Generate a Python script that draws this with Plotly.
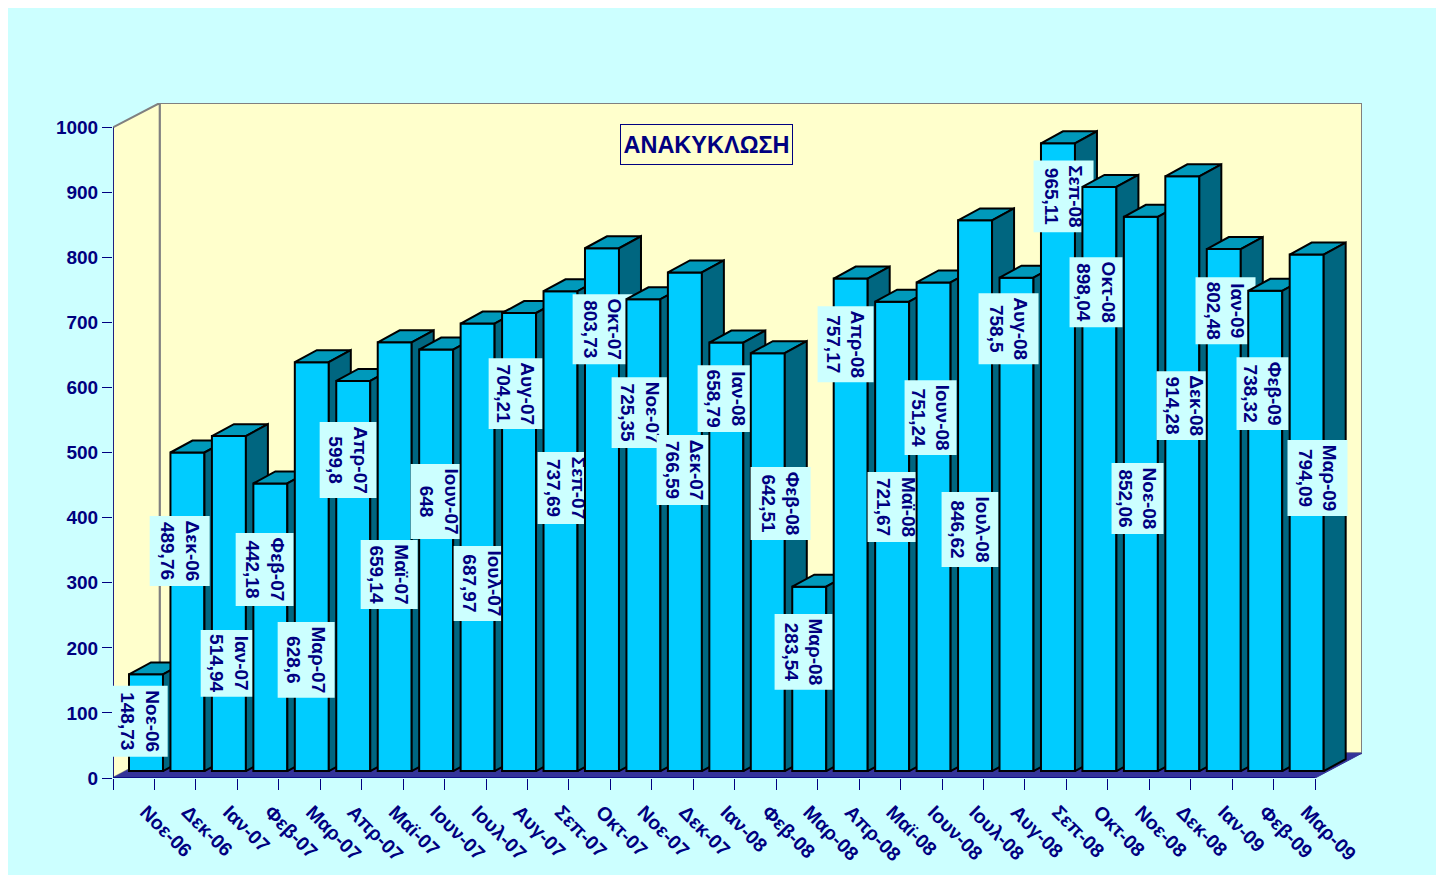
import plotly.graph_objects as go

months = ["Νοε-06","Δεκ-06","Ιαν-07","Φεβ-07","Μαρ-07","Απρ-07","Μαϊ-07","Ιουν-07","Ιουλ-07","Αυγ-07",
          "Σεπ-07","Οκτ-07","Νοε-07","Δεκ-07","Ιαν-08","Φεβ-08","Μαρ-08","Απρ-08","Μαϊ-08","Ιουν-08",
          "Ιουλ-08","Αυγ-08","Σεπ-08","Οκτ-08","Νοε-08","Δεκ-08","Ιαν-09","Φεβ-09","Μαρ-09"]
values = [148.73,489.76,514.94,442.18,628.6,599.8,659.14,648,687.97,704.21,
          737.69,803.73,725.35,766.59,658.79,642.51,283.54,757.17,721.67,751.24,
          846.62,758.5,965.11,898.04,852.06,914.28,802.48,738.32,794.09]
y_ticks = list(range(0, 1001, 100))
title_text = "ΑΝΑΚΥΚΛΩΣΗ"

# hand-placed data label boxes, page pixels: left, right, top, bottom
label_left   = [113,150,201,236,278,320,361,411,454,489,538,573,612,657,698,751,775,818,868,905,942,979,1034,1070,1112,1157,1196,1237,1288]
label_right  = [168,210,257,294,335,377,418,468,511,543,595,633,669,713,755,811,833,874,925,957,999,1039,1094,1123,1164,1213,1256,1289,1348]
label_top    = [686,516,630,533,622,422,540,464,546,358,452,294,377,435,365,467,614,306,472,380,492,293,160,257,463,371,277,357,440]
label_bottom = [757,586,697,606,698,498,609,539,621,429,524,364,448,505,432,540,690,382,542,455,567,364,232,327,534,440,344,430,516]

# page geometry
PX0, PY0 = 113.3, 778.3      # front plane origin on the page
UX, UY = 41.46, 0.6513       # pixels per category / per value
PAGE = 8                     # body margin of the page
W, H = 1428, 867
PLOT_R, PLOT_T = 1362.5, 102.5
xmax = -0.5 + (PLOT_R - PX0) / UX
ymax = (PY0 - PLOT_T) / UY

WALL_DX, WALL_DY = 46.7 / UX, 38.0
BAR_W = 34 / UX
BAR_SHIFT = (146.3 - PX0) / UX - 0.5
BAR_BASE = 10.6
DEPTH_X, DEPTH_Y = 22 / UX, 18.4
TICK_LABEL_SHIFT = 0.29

NAVY = "#000080"
FONT = "Liberation Sans, Arial, sans-serif"

def px_x(p):
    return -0.5 + (p - PX0) / UX

def px_y(p):
    return (PY0 - p) / UY

def fmt(v):
    return str(v).replace(".", ",")

def poly(xs, ys, fill, line, width, yaxis):
    return go.Scatter(x=xs + xs[:1], y=ys + ys[:1], mode="lines", fill="toself", fillcolor=fill,
                      line=dict(color=line, width=width), yaxis=yaxis, xaxis="x",
                      hoverinfo="skip", showlegend=False)

def line(xs, ys, color, width, yaxis="y"):
    return go.Scatter(x=xs, y=ys, mode="lines", line=dict(color=color, width=width), yaxis=yaxis,
                      xaxis="x", hoverinfo="skip", showlegend=False)

traces = []
# walls and floor in the bottom subplot
x0, x1 = -0.5, 28.5
traces.append(poly([x0 + WALL_DX, xmax, xmax, x0 + WALL_DX], [WALL_DY, WALL_DY, ymax, ymax], "#FFFFCC", "#808080", 2, "y"))
traces.append(poly([x0, x0, x0 + WALL_DX, x0 + WALL_DX], [0, 1000, ymax, WALL_DY], "#FFFFCC", "#808080", 2, "y"))
traces.append(poly([x0, x1, x1 + WALL_DX, x0 + WALL_DX], [0, 0, WALL_DY, WALL_DY], "#333399", "#333399", 1, "y"))
traces.append(line([x0, x0], [0, 1000], NAVY, 1.5))
traces.append(line([x0, x1], [0, 0], NAVY, 1.5))

n = len(values)
for i in range(n + 1):
    ya = f"y{i + 2}"
    if i > 0:
        j = i - 1
        l, r, t, b = label_left[j], label_right[j], label_top[j], label_bottom[j]
        traces.append(go.Bar(x=[px_x((l + r) / 2)], y=[px_y(t) - px_y(b)], base=[px_y(b)], width=(r - l) / UX,
                             marker=dict(color="#CCFFFF", line=dict(width=0)),
                             text=[f"{months[j]}<br>{fmt(values[j])}"], textposition="inside", textangle=90,
                             insidetextanchor="middle", constraintext="none", cliponaxis=False,
                             textfont=dict(family=FONT, size=19, color=NAVY, weight=700),
                             yaxis=ya, xaxis="x", hoverinfo="skip", showlegend=False))
    if i < n:
        v = values[i]
        c = i + BAR_SHIFT
        L, R = c - BAR_W / 2, c + BAR_W / 2
        top = v + BAR_BASE
        traces.append(go.Bar(x=[c], y=[v], base=[BAR_BASE], width=BAR_W,
                             marker=dict(color="#00CCFF", line=dict(color="black", width=2)),
                             yaxis=ya, xaxis="x", hoverinfo="skip", showlegend=False))
        traces.append(poly([L, L + DEPTH_X, R + DEPTH_X, R], [top, top + DEPTH_Y, top + DEPTH_Y, top],
                           "#0099BB", "black", 2, ya))
        traces.append(poly([R, R + DEPTH_X, R + DEPTH_X, R], [BAR_BASE, BAR_BASE + DEPTH_Y, top + DEPTH_Y, top],
                           "#006680", "black", 2, ya))

fig = go.Figure(traces)

layout = dict(
    width=W, height=H, paper_bgcolor="#CCFFFF", plot_bgcolor="rgba(0,0,0,0)", barmode="overlay",
    margin=dict(l=PX0 - PAGE, r=W - (PLOT_R - PAGE), t=PLOT_T - PAGE, b=H - (PY0 - PAGE), pad=0, autoexpand=False),
    showlegend=False,
    font=dict(family=FONT, color=NAVY),
    xaxis=dict(range=[-0.5, xmax], tickmode="array", tickvals=[k + TICK_LABEL_SHIFT for k in range(n)], ticktext=months,
               tickangle=45, ticks="outside", ticklen=14, tickcolor="rgba(0,0,0,0)", showgrid=False, zeroline=False,
               showline=False, tickfont=dict(family=FONT, size=19.5, color=NAVY, weight=700),
               minor=dict(tickmode="array", tickvals=[k - 0.5 for k in range(n + 1)], ticks="outside", ticklen=11,
                          tickcolor=NAVY, tickwidth=1, showgrid=False)),
    yaxis=dict(range=[0, ymax], tickmode="array", tickvals=y_ticks, ticks="outside", ticklen=10, tickcolor=NAVY,
               showgrid=False, zeroline=False, showline=False,
               tickfont=dict(family=FONT, size=19, color=NAVY, weight=700)),
    annotations=[dict(x=px_x(706.5), y=px_y(144.5), xref="x", yref="y", text=f"<b>{title_text}</b>", showarrow=False,
                      font=dict(family=FONT, size=23.5, color=NAVY), bgcolor="#FFFFCC", bordercolor=NAVY, borderwidth=1,
                      width=171, height=39, borderpad=0)],
)
for i in range(n + 1):
    layout[f"yaxis{i + 2}"] = dict(range=[0, ymax], overlaying="y", visible=False, showgrid=False, zeroline=False)
fig.update_layout(**layout)

fig.write_html("out.html")
